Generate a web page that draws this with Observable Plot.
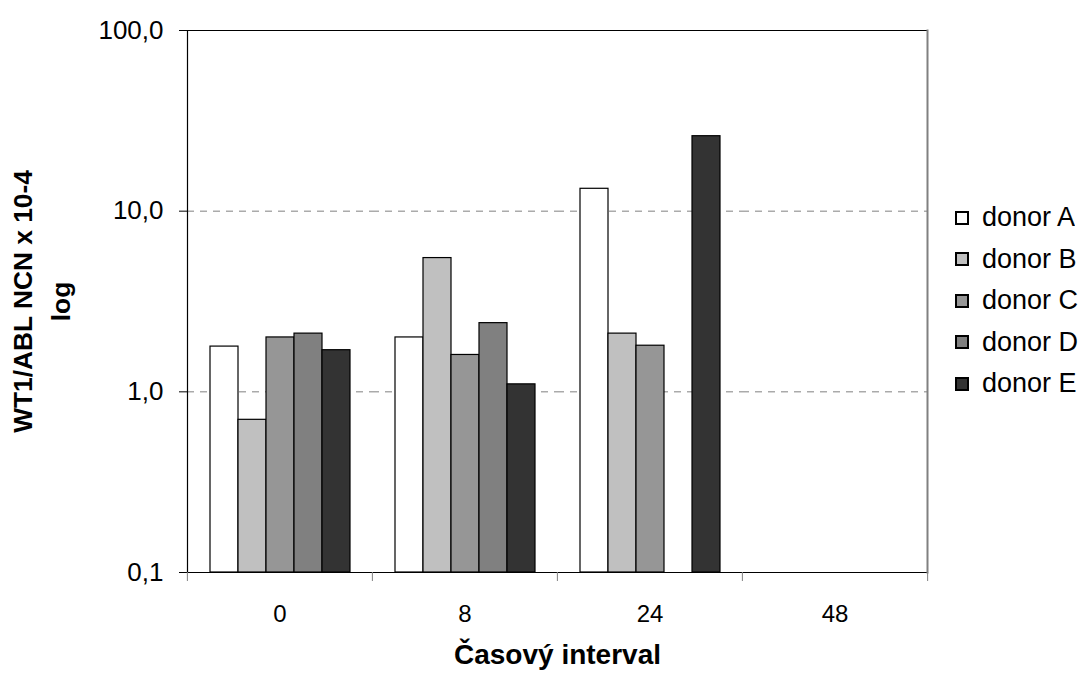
<!DOCTYPE html>
<html>
<head>
<meta charset="utf-8">
<script src="https://cdn.jsdelivr.net/npm/d3@7"></script>
<script src="https://cdn.jsdelivr.net/npm/@observablehq/plot@0.6"></script>
<style>
  body { margin: 0; background: #fff; font-family: "Liberation Sans", Arial, sans-serif; }
  #chart { position: relative; width: 1080px; height: 675px; }
  #legend { position: absolute; left: 956px; top: 197px; }
  #legend, #legend * { font-family: "Liberation Sans", Arial, sans-serif !important; font-size: 27px !important; color: #000; }
  #legend div, #legend span { line-height: 41.5px; }
  .lg-swatch { height: 41.5px; display: flex; align-items: center; margin: 0 !important; padding: 0 !important; white-space: nowrap; }
  .lg-swatch svg { margin-right: 14px !important; }
  .lg-swatch svg rect { stroke: #000; stroke-width: 2px; }
</style>
</head>
<body>
<div id="chart"><div id="legend"></div></div>
<script>
// Sampling intervals (hours) and donors
const times = ["0", "8", "24", "48"];
const donors = ["donor A", "donor B", "donor C", "donor D", "donor E"];
const donorColors = ["#ffffff", "#c0c0c0", "#969696", "#808080", "#333333"];

// WT1/ABL NCN x 10-4 per donor at each interval (null = not measured)
const donorA = [1.78, 2.0, 13.3, null];
const donorB = [0.70, 5.5, 2.1, null];
const donorC = [2.0, 1.6, 1.8, null];
const donorD = [2.1, 2.4, null, null];
const donorE = [1.7, 1.1, 26.0, null];

// Log axis ticks and their printed labels (decimal comma)
const yTicks = [0.1, 1, 10, 100];
const yTickLabels = ["0,1", "1,0", "10,0", "100,0"];
const gridValues = [1, 10];
const baseline = 0.1;
const ceiling = 100;

const xTitle = "Časový interval";
const yTitle = "WT1/ABL NCN x 10-4\nlog";

const series = [donorA, donorB, donorC, donorD, donorE];
const rows = [];
series.forEach((vals, i) => vals.forEach((v, j) => {
  if (v != null) rows.push({donor: donors[i], time: times[j], value: v});
}));

// one entry per interval so every interval (also the empty one) gets its panel
const gridRows = times.flatMap(t => gridValues.map(g => ({time: t, value: g})));
const edgeRows = times.flatMap(t => [{time: t, value: baseline}, {time: t, value: ceiling}]);

const W = 1080, H = 675, mL = 186, mR = 153, mT = 30, mB = 103;
const step = (W - mL - mR) / times.length;

const plot = Plot.plot({
  width: W, height: H,
  marginLeft: mL, marginRight: mR, marginTop: mT, marginBottom: mB,
  style: {fontFamily: "'Liberation Sans', Arial, sans-serif", fontSize: "24px", color: "#000", background: "#fff", overflow: "visible"},
  fx: {domain: times, padding: 0},
  x: {domain: donors, paddingInner: 0, paddingOuter: 0.716, axis: null},
  y: {type: "log", domain: [baseline, ceiling]},
  color: {domain: donors, range: donorColors},
  marks: [
    Plot.ruleY(gridRows, {fx: "time", y: "value", stroke: "#808080", strokeDasharray: "7,6"}),
    Plot.barY(rows, {fx: "time", x: "donor", y1: baseline, y2: "value", fill: "donor", stroke: "#000", strokeWidth: 1.2}),
    Plot.ruleY(edgeRows, {fx: "time", y: "value", stroke: "#000", strokeWidth: 1.2}),
    Plot.frame({anchor: "right", stroke: "#808080", strokeWidth: 2, facet: "super"}),
    Plot.frame({anchor: "left", stroke: "#000", strokeWidth: 1.2, facet: "super"}),
    Plot.axisY({ticks: yTicks, tickFormat: d => yTickLabels[yTicks.indexOf(d)], tickSize: 8, tickPadding: 16, fontSize: 26, label: null}),
    Plot.axisFx({anchor: "bottom", tickSize: 0, tickPadding: 32, label: null}),
    Plot.axisFx({anchor: "bottom", tickSize: 9, tickFormat: () => "", dx: -step / 2, stroke: "#808080", label: null}),
    Plot.axisFx({anchor: "bottom", ticks: [times[times.length - 1]], tickSize: 9, tickFormat: () => "", dx: step / 2, stroke: "#808080", label: null}),
    Plot.text([xTitle], {frameAnchor: "bottom", dy: 91, fontWeight: "bold", fontSize: 28, facet: "super"}),
    Plot.text([yTitle], {frameAnchor: "left", textAnchor: "middle", dx: -149, rotate: -90, lineHeight: 1.48, fontWeight: "bold", fontSize: 26.3, facet: "super"})
  ]
});
document.getElementById("chart").prepend(plot);

const legend = plot.legend("color", {legend: "swatches", columns: 1, swatchSize: 12, className: "lg",
  style: {fontSize: "27px", fontFamily: "'Liberation Sans', Arial, sans-serif"}});
document.getElementById("legend").append(legend);
</script>
</body>
</html>
